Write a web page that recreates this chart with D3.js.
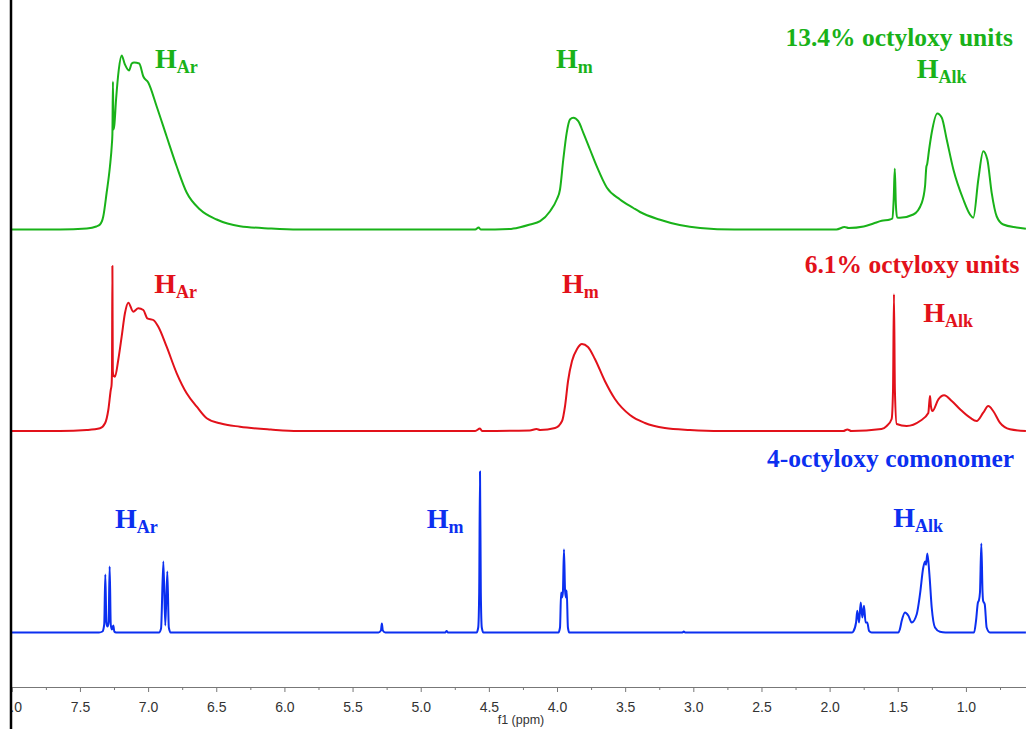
<!DOCTYPE html>
<html lang="en">
<head>
    <meta charset="UTF-8">
    <title>1H NMR spectra – octyloxy units</title>
    <style>
        body { margin: 0; background: #ffffff; }
        svg { display: block; }
        .axis text { font-family: "Liberation Sans", Arial, sans-serif; font-size: 14px; fill: #333; }
        .axis path, .axis line { stroke: #777; }
        .lbl { font-family: "Liberation Serif", "Times New Roman", serif; font-weight: bold; }
    </style>
</head>
<body>
    <svg id="chart" width="1026" height="729"></svg>

    <script src="https://d3js.org/d3.v7.min.js"></script>
    <script>
        // tick values (ppm)
        const majorTicks = [8.0, 7.5, 7.0, 6.5, 6.0, 5.5, 5.0, 4.5, 4.0, 3.5, 3.0, 2.5, 2.0, 1.5, 1.0];
        const minorTicks = [7.75, 7.25, 6.75, 6.25, 5.75, 5.25, 4.75, 4.25, 3.75, 3.25, 2.75, 2.25, 1.75, 1.25, 0.75];

        // spectra: [ppm, intensity]
        const green = [
            [8.0, 0], [7.646, 0], [7.45, 1], [7.38, 3], [7.353, 5], [7.329, 13], [7.304, 37], [7.280, 63],
            [7.266, 85], [7.262, 95], [7.258, 148], [7.254, 100], [7.248, 104], [7.235, 130], [7.215, 160],
            [7.194, 174], [7.170, 165], [7.140, 159], [7.120, 166], [7.103, 167], [7.065, 166], [7.035, 153],
            [6.999, 147], [6.937, 123], [6.864, 93], [6.790, 63], [6.717, 37], [6.619, 20], [6.497, 10],
            [6.326, 3.3], [6.1, 1], [5.9, 0], [4.60, 0], [4.575, 2], [4.56, 0], [4.35, 0.5], [4.271, 2.3],
            [4.198, 5], [4.124, 8.3], [4.051, 18.3], [4.002, 30], [3.978, 40], [3.954, 70], [3.929, 96.7],
            [3.905, 110], [3.880, 111.7], [3.844, 108.3], [3.807, 96.7], [3.758, 80], [3.709, 63.3],
            [3.635, 42], [3.538, 30], [3.440, 21.5], [3.391, 17.5], [3.25, 10], [3.1, 4.5], [2.95, 1.5],
            [2.7, 0], [1.95, 0], [1.89, 2.5], [1.86, 1.5], [1.75, 3], [1.679, 6], [1.618, 8.7], [1.557, 10],
            [1.540, 11], [1.530, 30], [1.522, 60.7], [1.514, 25], [1.505, 12], [1.484, 11.7], [1.386, 15],
            [1.324, 26.7], [1.300, 43.3], [1.290, 63], [1.285, 65], [1.270, 80], [1.251, 96.7], [1.210, 116],
            [1.177, 111.7], [1.141, 90], [1.092, 60], [1.019, 30], [0.970, 15], [0.946, 11.7], [0.909, 50],
            [0.873, 78.3], [0.843, 70], [0.811, 36.7], [0.774, 13], [0.726, 5], [0.628, 2], [0.56, 0.7]
        ];

        const red = [
            [8.0, 0], [7.646, 0], [7.45, 1], [7.353, 2.7], [7.316, 7.7], [7.292, 21], [7.274, 41], [7.268, 46],
            [7.265, 60], [7.262, 165], [7.259, 60], [7.255, 56], [7.243, 54.3], [7.219, 71], [7.194, 94.3],
            [7.170, 117.7], [7.145, 128.3], [7.109, 119.3], [7.072, 122.7], [7.035, 121], [7.006, 112.7],
            [6.962, 111], [6.925, 104.3], [6.864, 84.3], [6.790, 57.7], [6.717, 37.7], [6.643, 24.3],
            [6.570, 12.7], [6.473, 7.7], [6.326, 4.3], [6.1, 1.5], [5.9, 0], [4.60, 0], [4.565, 2.5],
            [4.55, 0], [4.2, 0.5], [4.15, 2], [4.124, 1], [4.014, 3], [3.963, 10], [3.941, 25], [3.919, 50],
            [3.890, 70], [3.853, 82], [3.817, 87], [3.773, 84], [3.722, 72], [3.649, 50], [3.575, 32],
            [3.465, 16], [3.355, 8], [3.209, 3], [3.025, 1], [2.8, 0], [1.9, 0], [1.87, 1.5], [1.84, 0],
            [1.62, 2], [1.581, 5], [1.545, 12], [1.535, 40], [1.528, 136.7], [1.521, 40], [1.508, 7],
            [1.435, 5], [1.337, 10], [1.276, 18], [1.268, 30], [1.263, 35], [1.257, 25], [1.246, 20],
            [1.202, 31.7], [1.160, 35.7], [1.104, 30], [1.043, 21.7], [0.970, 13.3], [0.921, 10],
            [0.873, 18.3], [0.836, 25], [0.800, 20], [0.751, 8.3], [0.677, 1.7], [0.56, 0]
        ];

        const blue = [
            [8.0, 0], [7.36, 0], [7.335, 1], [7.322, 8], [7.314, 58], [7.306, 10], [7.298, 6], [7.290, 10],
            [7.282, 66], [7.274, 8], [7.266, 3], [7.255, 7], [7.248, 1], [7.235, 0], [6.92, 0], [6.905, 4],
            [6.888, 71], [6.874, 7], [6.859, 61], [6.848, 5], [6.835, 0], [5.31, 0], [5.292, 2], [5.285, 9],
            [5.278, 2], [5.26, 0], [4.82, 0], [4.81, 1.5], [4.80, 0], [4.59, 0], [4.578, 5], [4.571, 40],
            [4.565, 161], [4.559, 40], [4.552, 5], [4.54, 0], [3.99, 0], [3.978, 5], [3.970, 40], [3.963, 35],
            [3.957, 40], [3.949, 83], [3.941, 42], [3.935, 35], [3.929, 42], [3.920, 5], [3.91, 0], [3.08, 0],
            [3.07, 1], [3.06, 0], [1.835, 0], [1.826, 1], [1.806, 10], [1.797, 21.7], [1.784, 10],
            [1.772, 30], [1.760, 15], [1.748, 26.7], [1.736, 10], [1.724, 10], [1.711, 1.7], [1.691, 0],
            [1.496, 0], [1.485, 3], [1.471, 11.7], [1.447, 20], [1.422, 16.7], [1.398, 10], [1.361, 18.3],
            [1.337, 38.3], [1.313, 65], [1.300, 71], [1.293, 67.7], [1.283, 79], [1.268, 58.3], [1.251, 25],
            [1.227, 5], [1.190, 0.7], [1.15, 0], [0.94, 0], [0.926, 11.7], [0.912, 30], [0.905, 32],
            [0.897, 40], [0.887, 89], [0.878, 40], [0.874, 31.7], [0.862, 28.3], [0.848, 5], [0.824, 0],
            [0.56, 0]
        ];

        // sample names
        const titles = ["13.4% octyloxy units", "6.1% octyloxy units", "4-octyloxy comonomer"];
        const titleAt = [[0.656, 184], [0.608, 158.3], [0.647, 165.8]];

        // peak assignments: [ppm, intensity, subscript]
        const peakLabels = [
            [[6.949, 161.7, "Ar"], [4.007, 162, "m"], [1.361, 151.7, "Alk"]],
            [[6.955, 137.7, "Ar"], [3.963, 138, "m"], [1.313, 109.3, "Alk"]],
            [[7.243, 104.2, "Ar"], [4.956, 104.2, "m"], [1.533, 105.8, "Alk"]]
        ];

        const W = 1026, H = 729;
        const svg = d3.select("#chart");

        const x = d3.scaleLinear().domain([8.0, 0.56]).range([11.8, 1025.9]);

        const traces = [
            { pts: green, base: 229.5, color: "#19b219" },
            { pts: red, base: 431, color: "#e2111a" },
            { pts: blue, base: 632.5, color: "#0b2ff0" }
        ];

        svg.append("clipPath").attr("id", "plotClip")
            .append("rect").attr("x", 12).attr("y", 0).attr("width", W - 12).attr("height", H);

        traces.forEach((t, i) => {
            const y = d3.scaleLinear().domain([0, 200]).range([t.base, t.base - 200]);
            const line = d3.line()
                .x(d => x(d[0]))
                .y(d => y(d[1]))
                .curve(d3.curveMonotoneX);

            svg.append("path")
                .datum(t.pts)
                .attr("clip-path", "url(#plotClip)")
                .attr("fill", "none")
                .attr("stroke", t.color)
                .attr("stroke-width", 2)
                .attr("stroke-linejoin", "round")
                .attr("d", line);

            // sample title, right aligned
            svg.append("text")
                .attr("class", "lbl")
                .attr("x", x(titleAt[i][0]))
                .attr("y", y(titleAt[i][1]))
                .attr("text-anchor", "end")
                .attr("font-size", 25.5)
                .attr("fill", t.color)
                .text(titles[i]);

            // H labels with subscripts
            peakLabels[i].forEach(p => {
                const txt = svg.append("text")
                    .attr("class", "lbl")
                    .attr("x", x(p[0]))
                    .attr("y", y(p[1]))
                    .attr("fill", t.color);
                txt.append("tspan").attr("font-size", 28).text("H");
                txt.append("tspan").attr("font-size", 18).attr("dy", 5).text(p[2]);
            });
        });

        // bottom ppm axis
        const axisY = 687;
        const axisG = svg.append("g").attr("clip-path", "url(#plotClip)");

        axisG.append("g")
            .attr("class", "axis")
            .attr("transform", `translate(0,${axisY})`)
            .call(d3.axisBottom(x).tickValues(minorTicks).tickSize(3).tickSizeOuter(0).tickFormat(""));

        axisG.append("g")
            .attr("class", "axis")
            .attr("transform", `translate(0,${axisY})`)
            .call(d3.axisBottom(x).tickValues(majorTicks).tickSize(5).tickSizeOuter(0)
                .tickPadding(10).tickFormat(d3.format(".1f")));

        svg.append("text")
            .attr("x", 521)
            .attr("y", 724)
            .attr("text-anchor", "middle")
            .attr("font-family", "Liberation Sans, Arial, sans-serif")
            .attr("font-size", 12.5)
            .attr("fill", "#333")
            .text("f1 (ppm)");

        // left frame line
        svg.append("line")
            .attr("x1", 11).attr("x2", 11)
            .attr("y1", 0).attr("y2", H)
            .attr("stroke", "#000")
            .attr("stroke-width", 2.5);
    </script>
</body>
</html>
